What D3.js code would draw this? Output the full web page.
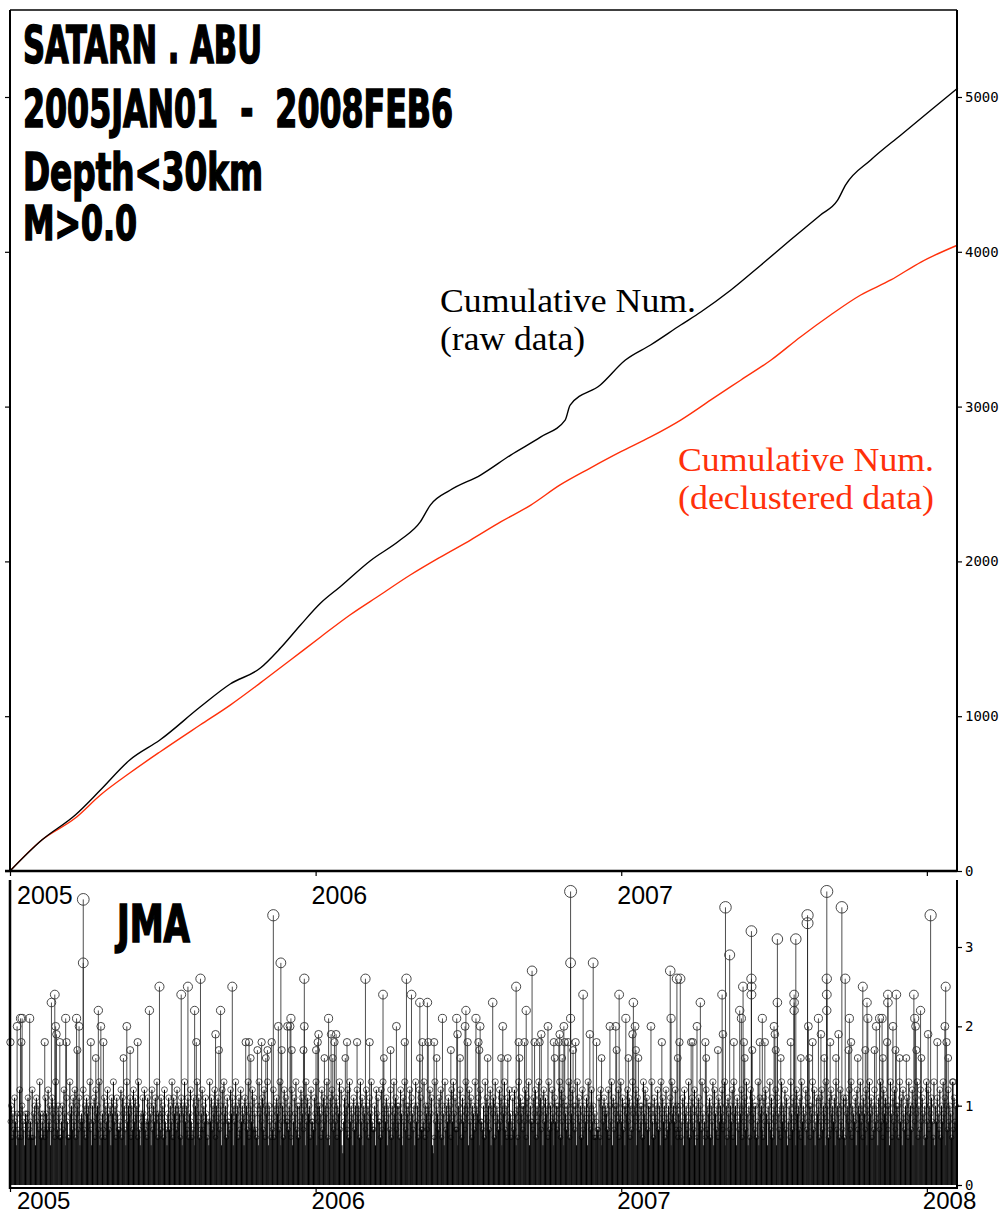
<!DOCTYPE html>
<html><head><meta charset="utf-8">
<script src="https://cdn.jsdelivr.net/npm/d3@7"></script>
<style>body{margin:0;background:#fff}svg{display:block}</style>
</head><body>
<script>
// ---------- data ----------
const rawDays   = [0,38,78,108,143,179,227,263,299,323,347,371,394,430,466,490,502,526,562,598,634,663,669,705,735,765,801,825,861,897,932,968,988,998,1028,1064,1100,1132];
const rawCounts = [0,200,362,523,717,846,1059,1208,1311,1440,1589,1731,1835,2003,2138,2255,2364,2461,2558,2687,2804,2913,3010,3140,3301,3398,3527,3611,3753,3915,4076,4238,4330,4432,4593,4755,4916,5058];
const declDays   = [0,38,78,108,143,179,227,263,299,335,371,406,442,478,514,550,586,622,657,693,729,765,801,837,873,909,944,980,1016,1052,1088,1132];
const declCounts = [0,200,342,491,633,769,943,1072,1215,1363,1512,1654,1783,1912,2028,2138,2255,2364,2494,2603,2707,2804,2913,3043,3172,3301,3450,3592,3721,3818,3934,4044];
const countTicks = [0,1000,2000,3000,4000,5000];
const magTicks = [0,1,2,3];
const yearLabels = ["2005","2006","2007","2008"];
const titleLines = ["SATARN . ABU","2005JAN01  -  2008FEB6","Depth<30km","M>0.0"];
const agencyLabel = "JMA";
const rawLabel = ["Cumulative Num.","(raw data)"];
const declLabel = ["Cumulative Num.","(declustered data)"];
// larger events: [day since 2005-01-01, magnitude]
const bigEvents = [
[87,3.6],[87,2.8],[53,2.4],[49,2.3],[8,2.0],[12,2.1],[14,2.1],[23,2.1],[79,2.1],[66,2.1],[82,2.0],[54,2.0],[105,2.2],[108,2.0],[139,2.0],[178,2.5],[166,2.2],[204,2.4],[212,2.5],[227,2.6],[220,2.2],[251,2.2],[265,2.5],[245,1.9],[41,1.8],[0,1.8],[13,1.8],[59,1.8],[67,1.8],[96,1.8],[111,1.8],[152,1.8],[222,1.8],[281,1.8],[285,1.8],[143,1.7],[102,1.6],[135,1.6],[80,1.7],[249,1.7],[287,1.6],[55,1.9],
[314,3.4],[323,2.8],[351,2.6],[424,2.6],[473,2.6],[445,2.4],[479,2.4],[489,2.3],[498,2.3],[576,2.3],[335,2.1],[320,2.0],[331,2.0],[334,2.0],[351,2.0],[380,2.1],[461,2.0],[516,2.1],[533,2.1],[544,2.2],[543,2.0],[556,2.1],[561,2.0],[534,1.9],[368,1.9],[383,1.9],[389,1.9],
[300,1.8],[312,1.8],[367,1.8],[387,1.8],[402,1.8],[414,1.8],[429,1.8],[471,1.8],[492,1.8],[499,1.8],[506,1.8],[546,1.8],[559,1.8],
[295,1.7],[307,1.7],[324,1.7],[336,1.7],[350,1.7],[365,1.7],[454,1.7],[526,1.7],[560,1.7],
[305,1.6],[375,1.6],[385,1.6],[400,1.6],[446,1.6],[489,1.6],[509,1.6],[537,1.6],[570,1.6],
[669,3.7],[669,2.8],[669,2.1],[854,3.5],[859,2.9],[696,2.8],[623,2.7],[604,2.5],[684,2.4],[727,2.4],[744,2.3],[616,2.2],[735,2.1],[788,2.7],[796,2.6],[800,2.6],[789,2.1],[824,2.3],[850,2.4],
[588,2.0],[642,2.0],[661,2.0],[716,2.0],[723,2.0],[746,2.0],[765,2.0],[820,2.0],
[634,1.9],[656,1.9],[692,1.9],[743,1.9],[851,1.9],
[607,1.8],[614,1.8],[626,1.8],[632,1.8],[649,1.8],[655,1.8],[662,1.8],[666,1.8],[675,1.8],[700,1.8],[778,1.8],[799,1.8],[813,1.8],[815,1.8],[830,1.8],
[672,1.7],[724,1.7],[747,1.7],[845,1.7],
[586,1.6],[594,1.6],[608,1.6],[650,1.6],[659,1.6],[706,1.6],[738,1.6],[750,1.6],[797,1.6],[831,1.6],
[975,3.7],[975,2.6],[975,2.4],[975,2.2],[993,3.5],[997,2.6],[952,3.4],[952,3.3],[1099,3.4],[885,3.2],[885,2.6],[885,2.5],[885,2.4],[916,3.1],[916,2.3],[938,3.1],[875,2.5],[1018,2.5],[1117,2.5],[936,2.4],[936,2.3],[936,2.2],[1048,2.4],[1048,2.3],[1058,2.4],[1079,2.4],[1023,2.3],[871,2.2],[1087,2.2],
[873,2.1],[898,2.1],[965,2.1],[1002,2.1],[1024,2.1],[1038,2.1],[1041,2.1],[1080,2.1],
[912,2.0],[953,2.0],[1034,2.0],[1054,2.0],[1081,2.0],[1116,2.0],
[913,1.9],[968,1.9],[989,1.9],[1096,1.9],
[864,1.8],[876,1.8],[895,1.8],[901,1.8],[932,1.8],[958,1.8],[979,1.8],[1004,1.8],[1047,1.8],[1107,1.8],[1118,1.8],
[886,1.7],[914,1.7],[1001,1.7],[1021,1.7],[1032,1.7],[1057,1.7],[1082,1.7],
[877,1.6],[920,1.6],[944,1.6],[954,1.6],[972,1.6],[986,1.6],[1012,1.6],[1042,1.6],[1062,1.6],[1070,1.6],[1088,1.6],[1120,1.6],[1126,1.3]
];
// daily largest small event, one character per day: '3'..'9' = M0.3..0.9, 'a'..'f' = M1.0..1.5
const dailyMaxCode = [
"8a697b85976c96a875989b6786c69a5b8a7d968976b97c8a57b9a6d87a9668a7c95b866d9a7b8c69a7b5898c7a6b9a8d75",
"a8b6c9a7d58697b6a8c97a5b9d8a6b9778c6b9a75d8a9b6a7c8b9a6d7598b9c786b8a95c7a8b9d6987b9a6c8759b7a8d6b9a",
"7c8a96b5a9d8a7b69c867b5a9d8b679c7a8b9685d8b7a9c6a8b97a5c8d9a6b887c9b5a8d9a6b7c8a95b8a7d69a8c7b976a5d",
"9a8b7c6a9d5a8697c6a8b9a7d58a6c9b887a96c58b9d7a6a8cb97a5d8b9a6c887b9d5a8a96c7b8a9d6a5b8c97a8b6a9d7c54",
"8b9a7c6d8a95b7a8c9a6d8b5a97c8a6b9d877a5c9b886c7d9a8b5a97c6a8d9b7a8a6c95b8d7a9a6c8b97a5d8a6c9b778d6a9",
"7a8c9b546d8a97b8c6a95d7a8b9a6c8d9b775a8c96b8a7d9a5c8b6a97d8a9b5c887a6d9b8a7c5a9b6d8a97c8b5a9d7a6b8c9",
"68b7c95a6d8b9a7a8c6b9d5a887b9c6a8d9b7a5c8b9a6d7a8c95b8a7a9d6c8b5a97a8d6b9c8a7a5d9b8a6c79a8b5d9a7c8a6",
"96877b6c5a8b9a97c6a8d5b7a9a8c69d8b7a5a9c8b6a7d9a8c5b97a8a6d9c8b7a5a9d86b9a8c7a5d9b8a6c97a8b5d9a8c7a6",
"97a68b5c9a78d6a9b87c5a69b8a7d9586c7a9b6a8d5c97a6b8a9c78d5a6b97a8c6d9a5b87a9c6a8b7d95a6c8b9a7a68d5b9",
"a76b8c95a8d7b69a8c5b97a6d8a9c7b58a6d97b8a5c9a7b6d8a95c7b8a6a9d7c58b9a6b8c7a95d8a6b7c9a8b5d7a96c8a7b6",
"5b9a8c7d6a98b5c7a9d8a6b97c5a8d9b6a7c8a95b7d8a6c9b8a7a5d96b8c7a9a6d8b5c97a8b6d9a7c5a8b9d6a7c8b95a6d8",
"c7a9b86d5a8b97c6a8d9b5a7c8a96d7b8a5c9a6b8d7a95c8b6a9d7a8c5b9a7d6a8b9c75a6d8b9a7c8a65d9b7a8c6b9a5d87"
].join("");

// ---------- scales ----------
const W = 1003, H = 1215;
const t0 = Date.UTC(2005,0,1), tEnd = Date.UTC(2008,1,6);
const nDays = Math.round((tEnd - t0)/864e5);
const dayDate = d => new Date(t0 + d*864e5);
const x = d3.scaleUtc().domain([new Date(t0), new Date(tEnd)]).range([10,957]);
const yTop = d3.scaleLinear().domain([0,5000]).range([871,97]);
const yMag = d3.scaleLinear().domain([0,3]).range([1185,947]);
const rMag = d3.scaleLinear().domain([0,3.7]).range([1.5,6]);
const yearDates = yearLabels.map(y => new Date(Date.UTC(+y,0,1)));
const RED = "#ff300a";

const svg = d3.select("body").append("svg").attr("width",W).attr("height",H);

// ---------- top panel ----------
const line = d3.line().x(d => x(dayDate(d[0]))).y(d => yTop(d[1])).curve(d3.curveMonotoneX);
svg.append("path").datum(declDays.map((d,i)=>[d,declCounts[i]]))
  .attr("d",line).attr("fill","none").attr("stroke",RED).attr("stroke-width",1.4);
svg.append("path").datum(rawDays.map((d,i)=>[d,rawCounts[i]]))
  .attr("d",line).attr("fill","none").attr("stroke","#000").attr("stroke-width",1.4);

// frame
const fr = svg.append("g").attr("stroke","#000");
fr.append("line").attr("x1",10).attr("x2",957).attr("y1",10).attr("y2",10).attr("stroke-width",1.5);
fr.append("line").attr("x1",10).attr("x2",10).attr("y1",10).attr("y2",871).attr("stroke-width",2);
fr.append("line").attr("x1",957).attr("x2",957).attr("y1",10).attr("y2",871).attr("stroke-width",2);
fr.append("line").attr("x1",5).attr("x2",957).attr("y1",871).attr("y2",871).attr("stroke-width",2.5);

const monoFont = "'DejaVu Sans Mono', 'Liberation Mono', monospace";
function styleAxis(g){
  g.select(".domain").remove();
  g.selectAll(".tick line").attr("stroke","#000").attr("stroke-width",1.2);
  g.selectAll(".tick text").attr("font-family",monoFont).attr("font-size",14).attr("fill","#000");
}
svg.append("g").attr("transform","translate(957,0)")
  .call(d3.axisRight(yTop).tickValues(countTicks).tickSize(5).tickPadding(3).tickFormat(d3.format("d")))
  .call(styleAxis);
svg.append("g").attr("transform","translate(10,0)")
  .call(d3.axisLeft(yTop).tickValues(countTicks).tickSize(5).tickFormat(""))
  .call(styleAxis);
svg.append("g").attr("transform","translate(0,871)")
  .call(d3.axisBottom(x).tickValues(yearDates).tickSize(5).tickFormat(""))
  .call(styleAxis);

// title block
const heavy = "'DejaVu Sans Condensed', 'DejaVu Sans', sans-serif";
function heavyText(txt, x0, x1, base, size){
  svg.append("text").attr("x",x0).attr("y",base).text(txt)
    .attr("font-family",heavy).attr("font-weight","bold").attr("font-size",size)
    .attr("textLength",x1-x0).attr("lengthAdjust","spacingAndGlyphs")
    .attr("fill","#000").attr("stroke","#000").attr("stroke-width",1.6)
    .style("white-space","pre");
}
heavyText(titleLines[0],23,262,63,52);
heavyText(titleLines[1],23,453,127,52);
heavyText(titleLines[2],23,263,190,52);
heavyText(titleLines[3],23,137,240,48);

// curve labels
const serif = "'Liberation Serif','Times New Roman',serif";
function serifText(txt,x0,x1,base,col){
  svg.append("text").attr("x",x0).attr("y",base).text(txt)
    .attr("font-family",serif).attr("font-size",34).attr("fill",col)
    .attr("textLength",x1-x0).attr("lengthAdjust","spacingAndGlyphs");
}
serifText(rawLabel[0],440,696,312,"#000");
serifText(rawLabel[1],440,585,350,"#000");
serifText(declLabel[0],678,934,471,RED);
serifText(declLabel[1],678,934,509,RED);

// ---------- bottom panel ----------
const stems = svg.append("g");
const daily = [];
for (let i = 0; i < Math.min(nDays, dailyMaxCode.length); i++){
  const c = dailyMaxCode[i];
  const m = c >= "a" ? 1 + (c.charCodeAt(0)-97)/10 : (+c)/10;
  daily.push([i + 0.5, m]);
}
stems.selectAll("line.s").data(daily).join("line").attr("class","s")
  .attr("x1",d=>x(dayDate(d[0]))).attr("x2",d=>x(dayDate(d[0])))
  .attr("y1",yMag(0)).attr("y2",d=>yMag(d[1]))
  .attr("stroke","#000").attr("stroke-width",1.05);
stems.selectAll("line.b").data(bigEvents).join("line").attr("class","b")
  .attr("x1",d=>x(dayDate(d[0]+0.5))).attr("x2",d=>x(dayDate(d[0]+0.5)))
  .attr("y1",yMag(0)).attr("y2",d=>yMag(d[1]))
  .attr("stroke","#222").attr("stroke-width",0.8);
const circ = svg.append("g").attr("fill","none");
circ.selectAll("circle.s").data(daily.filter(d=>d[1]>=0.6)).join("circle").attr("class","s")
  .attr("cx",d=>x(dayDate(d[0]))).attr("cy",d=>yMag(d[1])).attr("r",d=>rMag(d[1]))
  .attr("stroke","#000").attr("stroke-width",0.6);
circ.selectAll("circle.b").data(bigEvents).join("circle").attr("class","b")
  .attr("cx",d=>x(dayDate(d[0]+0.5))).attr("cy",d=>yMag(d[1])).attr("r",d=>rMag(d[1]))
  .attr("stroke","#333").attr("stroke-width",0.9);

const fb = svg.append("g").attr("stroke","#000");
fb.append("line").attr("x1",10).attr("x2",10).attr("y1",880).attr("y2",1189).attr("stroke-width",2.5);
fb.append("line").attr("x1",957).attr("x2",957).attr("y1",880).attr("y2",1189).attr("stroke-width",2);
fb.append("line").attr("x1",10).attr("x2",957).attr("y1",1188).attr("y2",1188).attr("stroke-width",2);

svg.append("g").attr("transform","translate(957,0)")
  .call(d3.axisRight(yMag).tickValues(magTicks).tickSize(5).tickPadding(3).tickFormat(d3.format("d")))
  .call(styleAxis);
svg.append("g").attr("transform","translate(0,1188)")
  .call(d3.axisBottom(x).tickValues(yearDates).tickSize(4).tickFormat(""))
  .call(styleAxis);

// year labels
const sans = "'Liberation Sans', Arial, Helvetica, sans-serif";
yearDates.forEach((d,i) => {
  const px = Math.max(17, x(d) - 4);
  if (i < 3) svg.append("text").attr("x",px).attr("y",904).text(yearLabels[i])
    .attr("font-family",sans).attr("font-size",25).attr("fill","#000");
  svg.append("text").attr("x",px).attr("y",1209).text(yearLabels[i])
    .attr("font-family",sans).attr("font-size",24).attr("fill","#000");
});
heavyText(agencyLabel,117,190,942,51);
</script>
</body></html>
